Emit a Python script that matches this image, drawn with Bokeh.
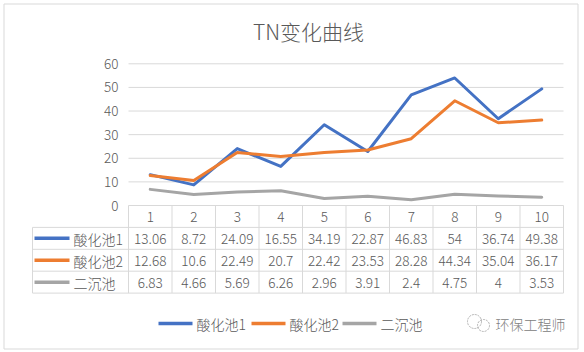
from bokeh.plotting import figure
from bokeh.models import Range1d
from bokeh.core.properties import value
from bokeh.embed import file_html
from bokeh.resources import INLINE

# ---------------- data ----------------
title = "TN变化曲线"
categories = ["1", "2", "3", "4", "5", "6", "7", "8", "9", "10"]
series_names = ["酸化池1", "酸化池2", "二沉池"]
acid1 = [13.06, 8.72, 24.09, 16.55, 34.19, 22.87, 46.83, 54, 36.74, 49.38]
acid2 = [12.68, 10.6, 22.49, 20.7, 22.42, 23.53, 28.28, 44.34, 35.04, 36.17]
sec_clar = [6.83, 4.66, 5.69, 6.26, 2.96, 3.91, 2.4, 4.75, 4, 3.53]
y_ticks = [0, 10, 20, 30, 40, 50, 60]
watermark = "环保工程师"

series = [acid1, acid2, sec_clar]
colors = ["#4472C4", "#ED7D31", "#A5A5A5"]

# ---------------- layout (pixels) ----------------
W, H = 584, 352
L, R, T, B = 128, 563, 63.3, 205          # plot area
VMIN, VMAX = y_ticks[0], y_ticks[-1]
n = len(categories)
ppx = (R - L) / n
ppy = (B - T) / (VMAX - VMIN)

FONT = value("'Noto Sans CJK SC Light', 'Noto Sans CJK SC DemiLight', 'Noto Sans CJK SC'")
TXT = "#595959"
GRID = "#d9d9d9"

p = figure(width=W, height=H, x_range=Range1d(0, W), y_range=Range1d(H, 0),
           output_backend="svg", toolbar_location=None, min_border=0,
           x_axis_location=None, y_axis_location=None)
p.outline_line_color = None
p.background_fill_color = "white"
p.border_fill_color = "white"
p.grid.visible = False
p.extra_x_ranges = {"cat": Range1d(0.5 - L / ppx, 0.5 + (W - L) / ppx)}
p.extra_y_ranges = {"val": Range1d(VMAX - (H - T) / ppy, VMAX + T / ppy)}

# outer frame
p.quad(left=[3.5], right=[577.5], top=[3.5], bottom=[348.5], fill_color=None,
       line_color="#d9d9d9", line_width=1)

# title
p.text(x=[308], y=[30], text=[title], text_font=FONT, text_font_size="21px",
       text_color=TXT, text_align="center", text_baseline="middle")

# gridlines
gt = y_ticks[1:]
p.segment(x0=[0.5] * len(gt), x1=[n + 0.5] * len(gt), y0=gt, y1=gt,
          x_range_name="cat", y_range_name="val", line_color=GRID, line_width=1)

# y tick labels
p.text(x=[L - 10] * len(y_ticks), y=y_ticks, text=[str(t) for t in y_ticks],
       y_range_name="val", text_font=FONT, text_font_size="13.5px", text_color=TXT,
       text_align="right", text_baseline="middle")

# lines
xs = list(range(1, n + 1))
for s, c in zip(series, colors):
    p.line(x=xs, y=s, x_range_name="cat", y_range_name="val", line_color=c,
           line_width=3, line_join="round", line_cap="round")

# ---------------- data table ----------------
tbl_left = 32
tbl_top = B
row_h = 21.9
nrows = len(series) + 1
tbl_bottom = tbl_top + row_h * nrows

edges = [k + 0.5 for k in range(n + 1)]
p.segment(x0=edges, x1=edges, y0=[tbl_top] * len(edges), y1=[tbl_bottom] * len(edges),
          x_range_name="cat", line_color=GRID, line_width=1)
p.segment(x0=[tbl_left], x1=[tbl_left], y0=[tbl_top + row_h], y1=[tbl_bottom],
          line_color=GRID, line_width=1)
p.segment(x0=[L], x1=[R], y0=[tbl_top], y1=[tbl_top], line_color=GRID, line_width=1)
hy = [tbl_top + row_h * k for k in range(1, nrows + 1)]
p.segment(x0=[tbl_left] * len(hy), x1=[R] * len(hy), y0=hy, y1=hy,
          line_color=GRID, line_width=1)

p.text(x=xs, y=[tbl_top + row_h / 2 + 1] * n, text=categories, x_range_name="cat",
       text_font=FONT, text_font_size="13.5px", text_color=TXT,
       text_align="center", text_baseline="middle")

for r, (name, s, c) in enumerate(zip(series_names, series, colors)):
    yc = tbl_top + row_h * (r + 1) + row_h / 2 + 1
    p.text(x=xs, y=[yc] * n, text=[f"{v:g}" for v in s], x_range_name="cat",
           text_font=FONT, text_font_size="13.5px", text_color=TXT,
           text_align="center", text_baseline="middle")
    p.segment(x0=[34], x1=[69], y0=[yc - 1], y1=[yc - 1], line_color=c, line_width=3.5)
    p.text(x=[73], y=[yc], text=[name], text_font=FONT, text_font_size="14px",
           text_color=TXT, text_align="left", text_baseline="middle")

# ---------------- bottom legend ----------------
leg_y = 323
leg_line_x = [158, 251, 342]
for name, c, lx in zip(series_names, colors, leg_line_x):
    p.segment(x0=[lx], x1=[lx + 34], y0=[leg_y], y1=[leg_y], line_color=c, line_width=3.5)
    p.text(x=[lx + 38], y=[leg_y], text=[name], text_font=FONT, text_font_size="14px",
           text_color=TXT, text_align="left", text_baseline="middle")

# watermark
p.circle(x=[474, 483], y=[321, 325], radius=[7, 6], fill_color=None,
         line_color="#b0b0b0", line_width=1, line_dash="2 1")
p.text(x=[495], y=[leg_y], text=[watermark], text_font=FONT, text_font_size="14px",
       text_color="#808080", text_align="left", text_baseline="middle")

open("out.html", "w").write(file_html(p, INLINE))
